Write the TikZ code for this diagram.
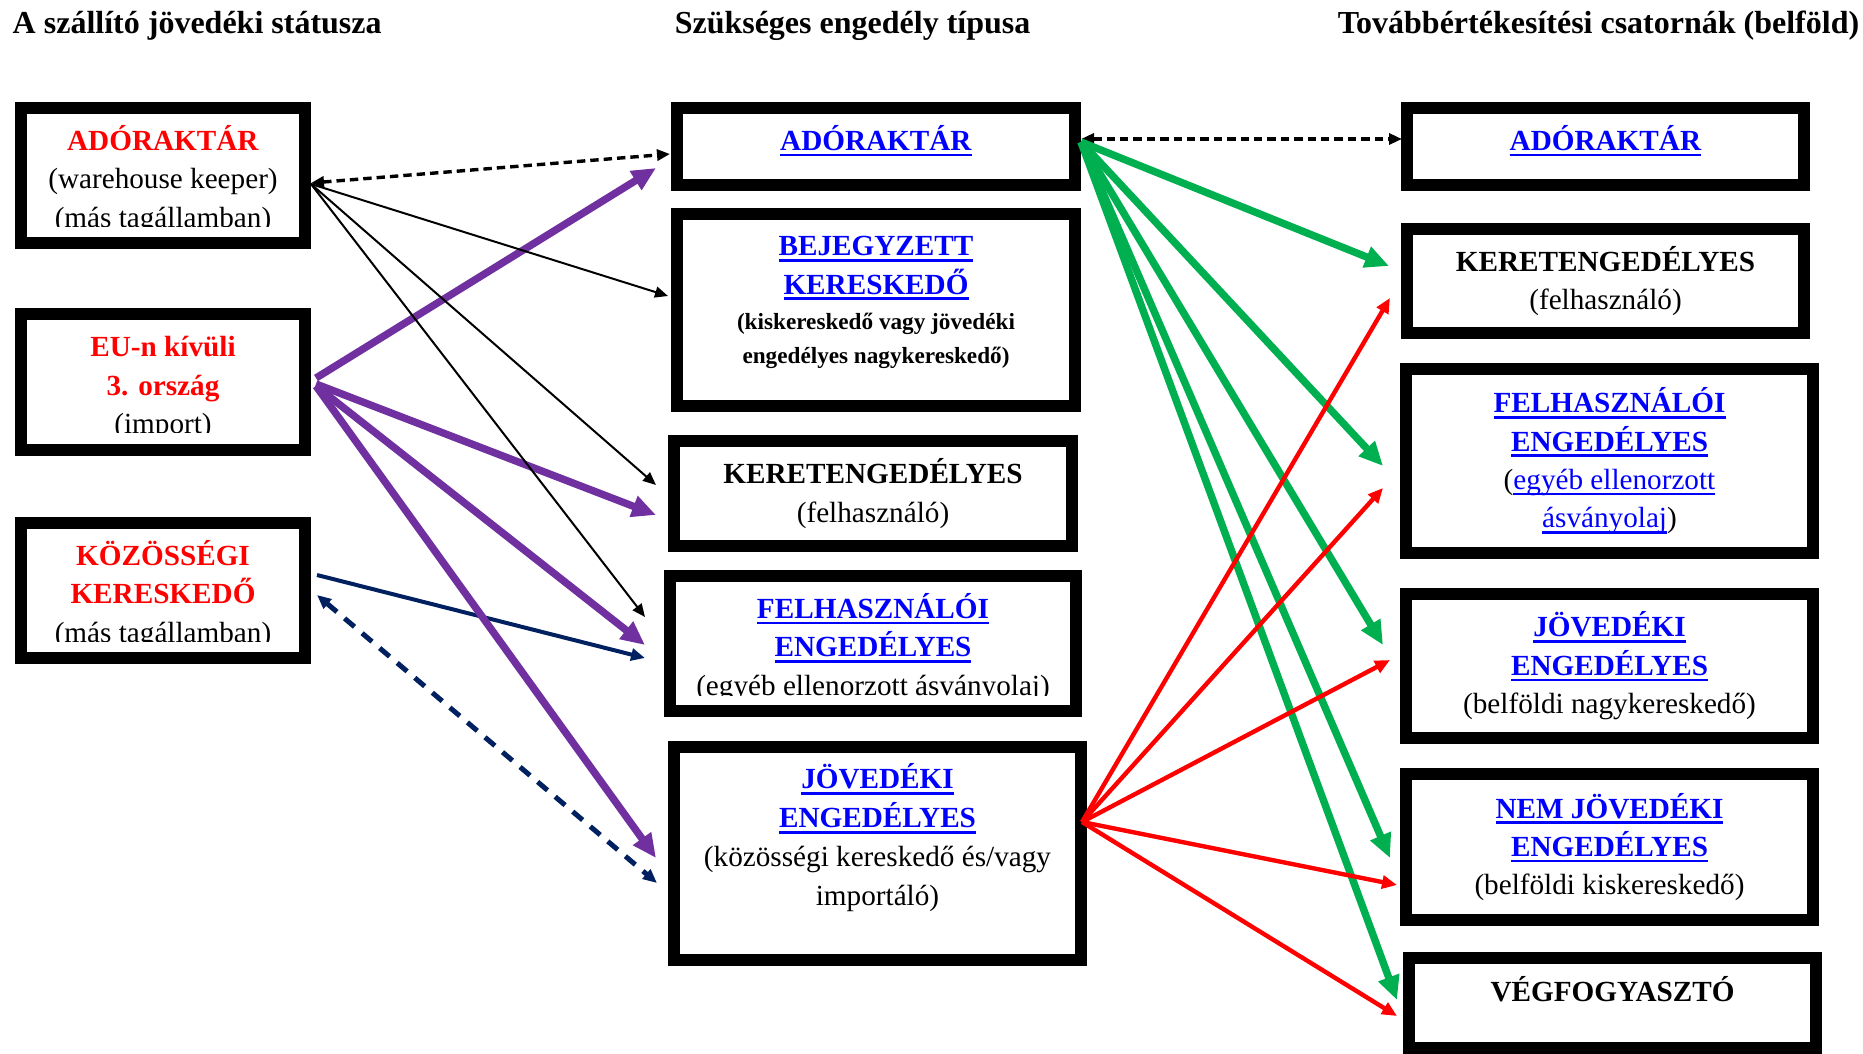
\documentclass[tikz,border=0pt]{standalone}
\usepackage{fontspec}
\setmainfont{Liberation Serif}
\usetikzlibrary{arrows.meta,calc}

\definecolor{adored}{RGB}{255,0,0}
\definecolor{linkblue}{RGB}{0,0,255}
\definecolor{arrgreen}{RGB}{0,176,80}
\definecolor{arrpurple}{RGB}{112,48,160}
\definecolor{arrnavy}{RGB}{0,32,96}

\newsavebox{\ulbox}
\newcommand{\undl}[1]{\sbox{\ulbox}{#1}\rlap{\usebox{\ulbox}}\rule[-2.9pt]{\wd\ulbox}{1.3pt}}
\newcommand{\lnk}[1]{\textcolor{linkblue}{\undl{\textbf{#1}}}}
\newcommand{\lnkr}[1]{\textcolor{linkblue}{\undl{#1}}}
\newcommand{\redb}[1]{\textcolor{adored}{\textbf{#1}}}
\newcommand{\topstrut}{\rule{0pt}{16.5pt}}

\tikzset{every picture/.style={line width=0.75pt},
  box/.style={draw, rectangle, line width=6pt, inner sep=0pt, outer sep=0pt, align=center,
    font=\fontsize{14.6}{19.2}\selectfont},
  colhead/.style={anchor=base west, inner sep=0pt, font=\fontsize{16}{19}\selectfont\bfseries},
  mask/.style={fill=white},
  thinarr/.style={line width=1pt, -{Triangle[length=6.5pt,width=5.5pt]}},
  dasharr/.style={line width=1.7pt, dash pattern=on 4.2pt off 2.5pt,
    {Triangle[length=6.5pt,width=5.5pt]}-{Triangle[length=6.5pt,width=5.5pt]}},
  purparr/.style={arrpurple, line width=3.7pt, -{Triangle[length=12pt,width=10.5pt]}},
  navyarr/.style={arrnavy, line width=2pt, -{Triangle[length=7pt,width=6pt]}},
  navydash/.style={arrnavy, line width=2.5pt, dash pattern=on 6.5pt off 5pt,
    {Triangle[length=7pt,width=6pt]}-{Triangle[length=7pt,width=6pt]}},
  greenarr/.style={arrgreen, line width=3.7pt, -{Triangle[length=12pt,width=10.5pt]}},
  redarr/.style={adored, line width=2.2pt, -{Triangle[length=7.5pt,width=6.5pt]}}
}

\begin{document}
\begin{tikzpicture}[x=0.5pt,y=0.5pt,yscale=-1,xscale=1]
\useasboundingbox (0,0) rectangle (1863,1054);

% Column heads
\node[colhead] (hleft) at (12,34) {A szállító jövedéki státusza};
\node[colhead] (hmid) at (674,34) {Szükséges engedély típusa};
\node[colhead] (hright) at (1337,34) {Továbbértékesítési csatornák (belföld)};

%Shape: Rectangle -- supplier status
\node[box, minimum width=142pt, minimum height=67.5pt] (l1) at (163,175.5)
  {\topstrut\redb{ADÓRAKTÁR}\\(warehouse keeper)\\(más tagállamban)};
\node[box, minimum width=142pt, minimum height=68pt] (l2) at (163,382)
  {\topstrut\redb{EU-n kívüli}\\\redb{3. ország}\\(import)};
\node[box, minimum width=142pt, minimum height=67.5pt] (l3) at (163,590.5)
  {\topstrut\redb{KÖZÖSSÉGI}\\\redb{KERESKEDŐ}\\(más tagállamban)};

%Shape: Rectangle -- licence types
\node[box, minimum width=199pt, minimum height=38.5pt] (m1) at (876,146.5)
  {\lnk{ADÓRAKTÁR}\rule[-8.7pt]{0pt}{0pt}};
\node[box, minimum width=199pt, minimum height=96pt] (m2) at (876,310)
  {\lnk{BEJEGYZETT}\\\lnk{KERESKEDŐ}\\[-1.5pt]
   {\fontsize{11.6}{16.5}\selectfont\textbf{(kiskereskedő vagy jövedéki}}\\[-2pt]
   {\fontsize{11.6}{16.5}\selectfont\textbf{engedélyes nagykereskedő)}\rule[-9.8pt]{0pt}{0pt}}};
\node[box, minimum width=199pt, minimum height=52.5pt] (m3) at (873,493.5)
  {\textbf{KERETENGEDÉLYES}\\(felhasználó)};
\node[box, minimum width=203pt, minimum height=67.5pt] (m4) at (873,643.5)
  {\topstrut\lnk{FELHASZNÁLÓI}\\\lnk{ENGEDÉLYES}\\(egyéb ellenorzott ásványolaj)};
\node[box, minimum width=203.5pt, minimum height=106.5pt, font=\fontsize{14.6}{19.5}\selectfont] (m5) at (877.5,853.5)
  {\lnk{JÖVEDÉKI}\\\lnk{ENGEDÉLYES}\\(közösségi kereskedő és/vagy\\importáló)\rule[-18.7pt]{0pt}{0pt}};

%Shape: Rectangle -- domestic resale channels
\node[box, minimum width=198.5pt, minimum height=38.5pt] (r1) at (1605.5,146.5)
  {\lnk{ADÓRAKTÁR}\rule[-8.7pt]{0pt}{0pt}};
\node[box, minimum width=198.5pt, minimum height=52pt] (r2) at (1605.5,281)
  {\textbf{KERETENGEDÉLYES}\\(felhasználó)};
\node[box, minimum width=203.5pt, minimum height=92pt] (r3) at (1609.5,461)
  {\lnk{FELHASZNÁLÓI}\\\lnk{ENGEDÉLYES}\\(\lnkr{egyéb ellenorzott}\\\lnkr{ásványolaj})};
\node[box, minimum width=203.5pt, minimum height=72pt] (r4) at (1609.5,666)
  {\lnk{JÖVEDÉKI}\\\lnk{ENGEDÉLYES}\\(belföldi nagykereskedő)};
\node[box, minimum width=203.5pt, minimum height=73pt] (r5) at (1609.5,847)
  {\lnk{NEM JÖVEDÉKI}\\\lnk{ENGEDÉLYES}\\(belföldi kiskereskedő)};
\node[box, minimum width=203.5pt, minimum height=45pt] (r6) at (1612.5,1003)
  {\textbf{VÉGFOGYASZTÓ}\rule[-14.5pt]{0pt}{0pt}};

% cut-off last lines
\fill[mask] ($(l1.south west)+(6,-6)$) rectangle ($(l1.south east)+(-6,-16)$);
\fill[mask] ($(l2.south west)+(6,-6)$) rectangle ($(l2.south east)+(-6,-17)$);
\fill[mask] ($(l3.south west)+(6,-6)$) rectangle ($(l3.south east)+(-6,-16)$);
\fill[mask] ($(m4.south west)+(6,-6)$) rectangle ($(m4.south east)+(-6,-15)$);

%Straight Lines -- navy
\draw[navyarr] ($(l3.east)+(12,-15.5)$) -- ($(m4.west)+(-25,14.5)$);
\draw[navydash] ($(l3.east)+(12,4.5)$) -- ($(m5.west)+(-17,29.5)$);

%Straight Lines -- purple
\draw[purparr] ($(l2.east)+(11,-4)$) -- ($(m1.west)+(-21,21.5)$);
\draw[purparr] ($(l2.east)+(11,2)$) -- ($(m3.west)+(-18,21.5)$);
\draw[purparr] ($(l2.east)+(11,4)$) -- ($(m4.west)+(-25,1.5)$);
\draw[purparr] ($(l2.east)+(11,4)$) -- ($(m5.west)+(-18,4.5)$);

%Straight Lines -- black
\draw[dasharr] ($(l1.east)+(6,7.5)$) -- ($(m1.west)+(-7,7.5)$);
\draw[thinarr] ($(l1.east)+(6,8.5)$) -- ($(m2.west)+(-9,-14)$);
\draw[thinarr] ($(l1.east)+(6,8.5)$) -- ($(m3.west)+(-18,-8.5)$);
\draw[thinarr] ($(l1.east)+(6,8.5)$) -- ($(m4.west)+(-25,-26.5)$);
\draw[dasharr] ($(m1.east)+(6,-7.5)$) -- ($(r1.west)+(-5,-7.5)$);

%Straight Lines -- green
\draw[greenarr] ($(m1.east)+(6,-4.5)$) -- ($(r2.west)+(-18,-15)$);
\draw[greenarr] ($(m1.east)+(6,-4.5)$) -- ($(r3.west)+(-23,5)$);
\draw[greenarr] ($(m1.east)+(6,-4.5)$) -- ($(r4.west)+(-23,-21)$);
\draw[greenarr] ($(m1.east)+(6,-4.5)$) -- ($(r5.west)+(-16,11)$);
\draw[greenarr] ($(m1.east)+(6,-4.5)$) -- ($(r6.west)+(-12,-3)$);

%Straight Lines -- red
\draw[redarr] ($(m5.east)+(1,-31.5)$) -- ($(r2.west)+(-17,17)$);
\draw[redarr] ($(m5.east)+(1,-31.5)$) -- ($(r3.west)+(-23,27)$);
\draw[redarr] ($(m5.east)+(1,-31.5)$) -- ($(r4.west)+(-16,-6)$);
\draw[redarr] ($(m5.east)+(1,-31.5)$) -- ($(r5.west)+(-9,38)$);
\draw[redarr] ($(m5.east)+(1,-31.5)$) -- ($(r6.west)+(-12,13)$);

\end{tikzpicture}
\end{document}
